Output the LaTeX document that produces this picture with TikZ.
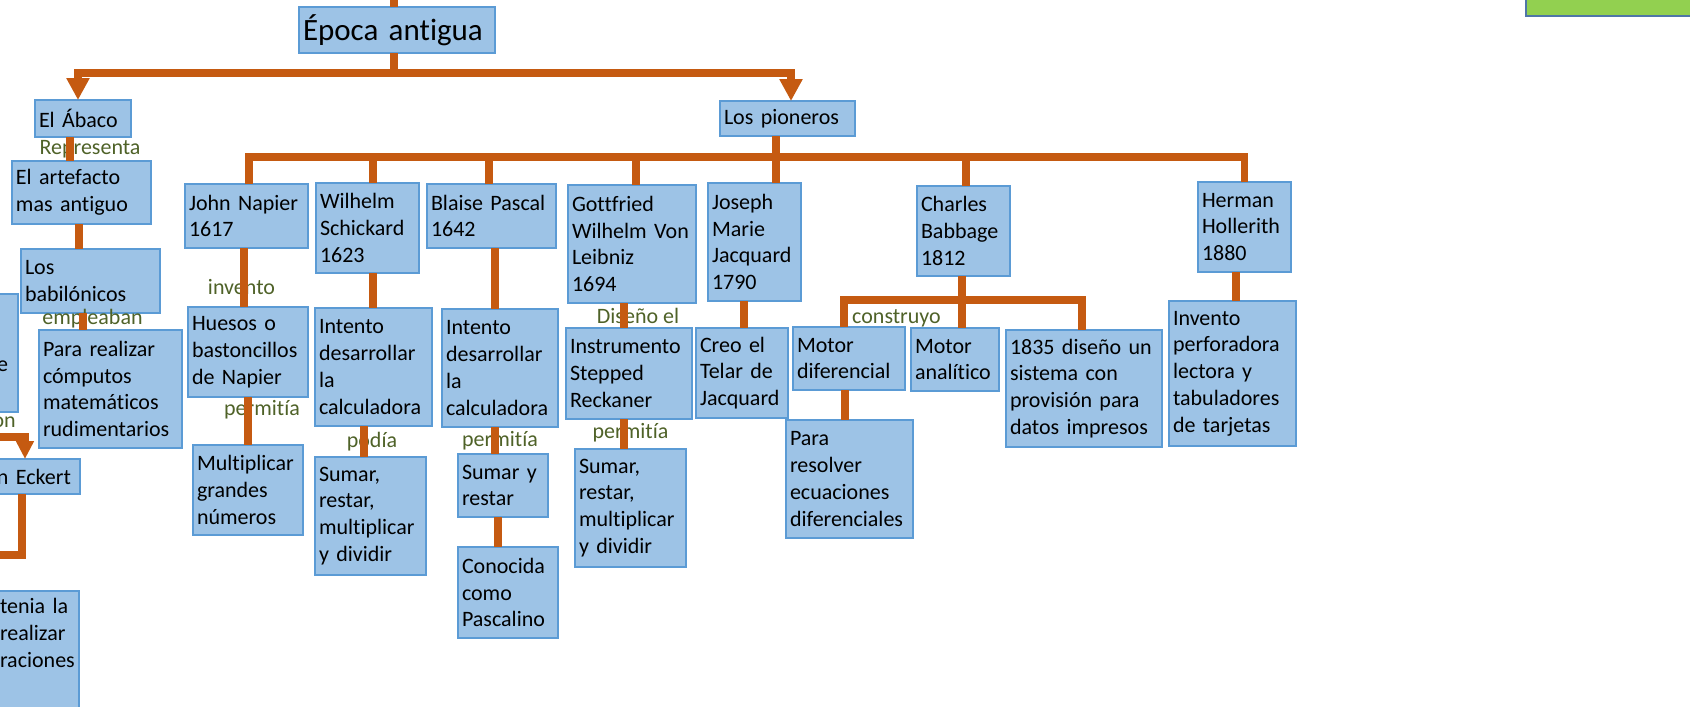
\documentclass[tikz,border=0pt]{standalone}
\usepackage{fontspec}
\setmainfont{Carlito}[Ligatures=CommonOff]
\usepackage{tikz}
\usetikzlibrary{arrows.meta}
\definecolor{naranja}{RGB}{197,90,17}
\definecolor{azulcaja}{RGB}{157,195,230}
\definecolor{azulborde}{RGB}{91,155,213}
\definecolor{verdetexto}{RGB}{79,98,40}
\definecolor{verdecaja}{RGB}{146,208,80}
\definecolor{bordeverde}{RGB}{79,118,168}
\tikzset{
  caja/.style 2 args={draw=azulborde, fill=azulcaja, line width=1.6pt, outer sep=0pt,
    inner xsep=4pt, inner ysep=1pt, anchor=north west, align=left,
    text width=#1pt-8pt, minimum height=#2pt, font=\fontsize{22pt}{26.8pt}\selectfont},
  rama/.style={draw=naranja, line width=7.5pt},
  etiqueta/.style={text=verdetexto, inner sep=0pt, font=\fontsize{22pt}{26.8pt}\selectfont},
}

\begin{document}
\begin{tikzpicture}[x=1pt, y=-1pt, >={Triangle[width=22pt,length=22pt]}]
\useasboundingbox (0,0) rectangle (1690,707);
\clip (0,0) rectangle (1690,707);

\node[caja={196}{46}, font=\fontsize{31pt}{36pt}\selectfont] (epoca) at (299,7) {Época antigua};
\node[draw=bordeverde, fill=verdecaja, line width=1.6pt, outer sep=0pt, anchor=north west,
  minimum width=180pt, minimum height=46pt] (verde) at (1526,-30) {};

\node[caja={96}{37}] (abaco) at (35,100) {El Ábaco};
\node[caja={139}{63}] (artefacto) at (12,161) {El artefacto\\mas antiguo};
\node[caja={139}{64}] (babilonicos) at (21,249) {Los\\babilónicos};
\node[caja={143}{118}] (pararealizar) at (39,330) {Para realizar\\cómputos\\matemáticos\\rudimentarios};
\node[caja={36}{118}, inner xsep=10pt, align=right] (parcial) at (-30,294) {\strut\\\strut\\e\\\strut};
\node[caja={87}{35}] (eckert) at (-7,459) {n Eckert};
\node[caja={83}{119}] (tenia) at (-4,591) {tenia la\\realizar\\raciones\\\strut};

\node[caja={135}{35}] (pioneros) at (720,101) {Los pioneros};
\node[caja={123}{64}] (napier) at (185,184) {John Napier\\1617};
\node[caja={103}{90}] (wilhelm) at (316,183) {Wilhelm\\Schickard\\1623};
\node[caja={129}{64}] (blaise) at (427,184) {Blaise Pascal\\1642};
\node[caja={128}{118}] (gottfried) at (568,185) {Gottfried\\Wilhelm Von\\Leibniz\\1694};
\node[caja={93}{118}] (joseph) at (708,183) {Joseph\\Marie\\Jacquard\\1790};
\node[caja={93}{90}] (charles) at (917,186) {Charles\\Babbage\\1812};
\node[caja={93}{90}] (herman) at (1198,182) {Herman\\Hollerith\\1880};

\node[caja={120}{90}] (huesos) at (188,307) {Huesos o\\bastoncillos\\de Napier};
\node[caja={110}{90}] (multiplicar) at (193,445) {Multiplicar\\grandes\\números};
\node[caja={117}{118}] (intentoS) at (315,308) {Intento\\desarrollar\\la\\calculadora};
\node[caja={111}{118}] (sumarS) at (315,457) {Sumar,\\restar,\\multiplicar\\y dividir};
\node[caja={116}{118}] (intentoP) at (442,309) {Intento\\desarrollar\\la\\calculadora};
\node[caja={90}{63}] (sumaryrestar) at (458,454) {Sumar y\\restar};
\node[caja={100}{91}] (conocida) at (458,547) {Conocida\\como\\Pascalino};
\node[caja={126}{91}] (instrumento) at (566,328) {Instrumento\\Stepped\\Reckaner};
\node[caja={111}{118}] (sumarL) at (575,449) {Sumar,\\restar,\\multiplicar\\y dividir};
\node[caja={92}{90}] (creo) at (696,328) {Creo el\\Telar de\\Jacquard};
\node[caja={112}{63}] (motordif) at (793,327) {Motor\\diferencial};
\node[caja={88}{63}] (motoran) at (911,328) {Motor\\analítico};
\node[caja={156}{117}] (d1835) at (1006,330) {1835 diseño un\\sistema con\\provisión para\\datos impresos};
\node[caja={127}{118}] (pararesolver) at (786,420) {Para\\resolver\\ecuaciones\\diferenciales};
\node[caja={127}{145}] (invento) at (1169,301) {Invento\\perforadora\\lectora y\\tabuladores\\de tarjetas};

\node[etiqueta] (lrepresenta) at (90,149) {Representa};
\node[etiqueta] (lempleaban) at (92.5,319) {empleaban};
\node[etiqueta, anchor=east] (lon) at (16,422) {on};
\node[etiqueta] (linvento) at (241.5,287) {invento};
\node[etiqueta] (lpermitiaA) at (262,410) {permitía};
\node[etiqueta] (lpodia) at (372,442) {podía};
\node[etiqueta] (lpermitiaB) at (500,441) {permitía};
\node[etiqueta] (ldiseno) at (638,316) {Diseño el};
\node[etiqueta] (lpermitiaC) at (630.5,433) {permitía};
\node[etiqueta] (lconstruyo) at (896.5,318) {construyo};

\coordinate (arriba) at (394,-20);
\coordinate (ramaE) at ([xshift=-3pt,yshift=-20pt]epoca.south);
\coordinate (barraP) at ([yshift=-21pt]pioneros.south);
\coordinate (barraB) at ([yshift=-24pt]charles.south);
\coordinate (entrada) at (-20,437);
\coordinate (salida) at (-20,555);

\draw[rama] (arriba) -- (arriba |- epoca.north);
\draw[rama,->] ([xshift=-3pt]epoca.south) -- (ramaE) -| ([xshift=-5pt]abaco.north);
\draw[rama,->] (ramaE) -| ([xshift=3.5pt]pioneros.north);
\draw[rama] ([xshift=2.5pt]napier.north) |- (barraP) -| (herman.north);
\foreach \n/\dx in {wilhelm/5.5, blaise/-2.5, gottfried/4, charles/2.5}
  \draw[rama] ([xshift=\dx pt]\n.north) -- ([xshift=\dx pt]\n.north |- barraP);
\draw[rama] ([xshift=-5pt]motordif.north) |- (barraB) -| ([xshift=-2pt]d1835.north);
\foreach \a/\b/\dx in {abaco/artefacto/-13, artefacto/babilonicos/-2.5, babilonicos/pararealizar/-7.5,
    napier/huesos/-2.5, huesos/multiplicar/0, wilhelm/intentoS/5.5, intentoS/sumarS/-9.5,
    blaise/intentoP/3.5, intentoP/sumaryrestar/-5, sumaryrestar/conocida/-5,
    gottfried/instrumento/-8, instrumento/sumarL/-5, pioneros/joseph/-11.5, joseph/creo/-10.5,
    charles/motoran/-1.5, motordif/pararesolver/-4, herman/invento/-8.5}
  \draw[rama] ([xshift=\dx pt]\a.south) -- ([xshift=\dx pt]\a.south |- \b.north);
\draw[rama,-{Triangle[width=17pt,length=18pt]}] (entrada) -| ([xshift=-11.5pt]eckert.north);
\draw[rama] ([xshift=-14.5pt]eckert.south) |- (salida);
\end{tikzpicture}
\end{document}
